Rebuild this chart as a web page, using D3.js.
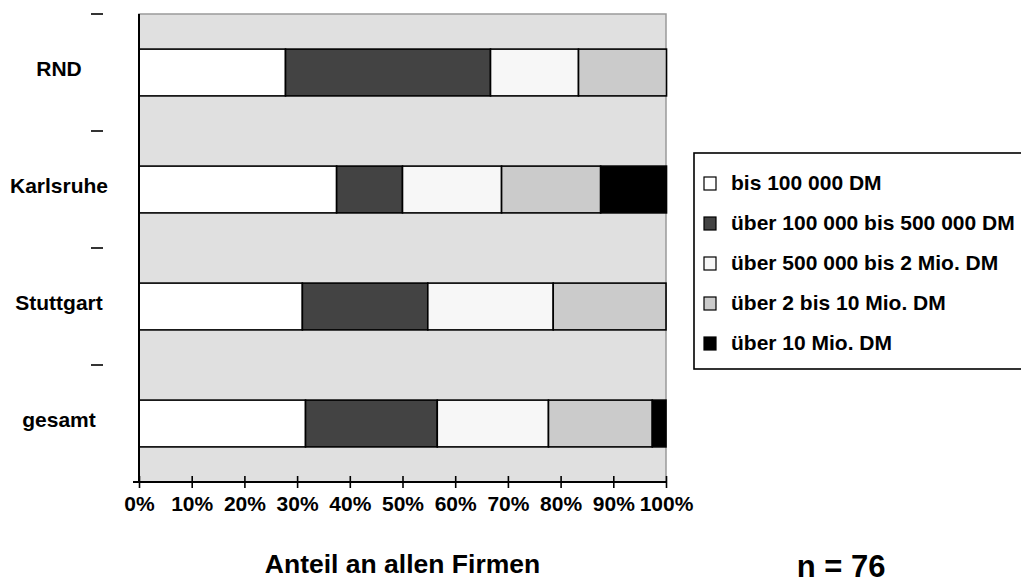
<!DOCTYPE html>
<html>
<head>
<meta charset="utf-8">
<script src="https://cdn.jsdelivr.net/npm/d3@7"></script>
<style>
  html, body { margin: 0; padding: 0; background: #fff; }
  svg { display: block; font-family: "Liberation Sans", Arial, sans-serif; font-weight: bold; }
</style>
</head>
<body>
<svg id="chart" width="1021" height="583"></svg>
<script>
// Categories (top to bottom) and size classes
const categories = ["RND", "Karlsruhe", "Stuttgart", "gesamt"];
const classes = [
  "bis 100 000 DM",
  "über 100 000 bis 500 000 DM",
  "über 500 000 bis 2 Mio. DM",
  "über 2 bis 10 Mio. DM",
  "über 10 Mio. DM"
];
// Share of firms per class, in percent
const bis100k      = [27.8, 37.5, 31.0, 31.6];
const bis500k      = [38.9, 12.5, 23.8, 25.0];
const bis2Mio      = [16.7, 18.8, 23.8, 21.1];
const bis10Mio     = [16.7, 18.8, 21.4, 19.7];
const ueber10Mio   = [0.0, 12.5, 0.0, 2.6];
const xTicks = [0, 10, 20, 30, 40, 50, 60, 70, 80, 90, 100];
const xTitle = "Anteil an allen Firmen";
const sampleNote = "n = 76";

const colors = ["#ffffff", "#434343", "#f7f7f7", "#cbcbcb", "#000000"];
const series = [bis100k, bis500k, bis2Mio, bis10Mio, ueber10Mio];

const rows = categories.map((c, i) => {
  const r = { cat: c };
  classes.forEach((k, j) => { r[k] = series[j][i]; });
  return r;
});

const svg = d3.select("#chart");
const plot = { left: 139, right: 666, top: 14, bottom: 482 };

const x = d3.scaleLinear().domain([0, 100]).range([plot.left, plot.right]);
const band = d3.scaleBand().domain(categories).range([plot.top, plot.bottom]);

// plot area
svg.append("rect")
  .attr("x", plot.left).attr("y", plot.top)
  .attr("width", plot.right - plot.left).attr("height", plot.bottom - plot.top)
  .attr("fill", "#e0e0e0").attr("stroke", "#9a9a9a").attr("stroke-width", 1.5);

// stacked bars
const stack = d3.stack().keys(classes)(rows);
svg.append("g").selectAll("g").data(stack).join("g")
  .attr("fill", (d, i) => colors[i])
  .selectAll("rect").data(d => d.filter(s => s[1] - s[0] > 0)).join("rect")
  .attr("x", d => x(d[0]))
  .attr("y", d => band(d.data.cat) + band.bandwidth() * 0.3)
  .attr("width", d => x(d[1]) - x(d[0]))
  .attr("height", band.bandwidth() * 0.4)
  .attr("stroke", "#000").attr("stroke-width", 1.6);

// value axis line on the left
svg.append("line")
  .attr("x1", plot.left).attr("x2", plot.left)
  .attr("y1", plot.top).attr("y2", plot.bottom)
  .attr("stroke", "#000").attr("stroke-width", 2);

// category axis ticks (band boundaries) and labels
svg.append("g").selectAll("line").data(categories).join("line")
  .attr("x1", 91).attr("x2", 103)
  .attr("y1", d => band(d)).attr("y2", d => band(d))
  .attr("stroke", "#000").attr("stroke-width", 1.6);

svg.append("g").selectAll("text").data(categories).join("text")
  .attr("x", 59)
  .attr("y", d => band(d) + band.bandwidth() / 2 - 4)
  .attr("dy", "0.35em")
  .attr("text-anchor", "middle")
  .attr("font-size", 21)
  .text(d => d);

// percentage axis
const xAxis = d3.axisBottom(x).tickValues(xTicks).tickFormat(d => d + "%")
  .tickSize(5).tickSizeOuter(0);
const gx = svg.append("g").attr("transform", `translate(0,${plot.bottom})`).call(xAxis);
gx.select(".domain").remove();
gx.append("line").attr("x1", plot.left - 6).attr("x2", plot.right)
  .attr("stroke", "#000").attr("stroke-width", 2);
gx.selectAll(".tick line").attr("y1", -6).attr("y2", 6)
  .attr("stroke", "#000").attr("stroke-width", 1.6);
gx.selectAll(".tick text").attr("y", 14).attr("font-size", 21)
  .attr("font-family", "Liberation Sans, Arial, sans-serif")
  .attr("font-weight", "bold").attr("fill", "#000");

// axis title and sample size
svg.append("text").attr("x", (plot.left + plot.right) / 2).attr("y", 573)
  .attr("text-anchor", "middle").attr("font-size", 26.5).text(xTitle);
svg.append("text").attr("x", 841).attr("y", 577)
  .attr("text-anchor", "middle").attr("font-size", 31).text(sampleNote);

// legend
const lg = svg.append("g");
lg.append("rect").attr("x", 694).attr("y", 153).attr("width", 340).attr("height", 216)
  .attr("fill", "#fff").attr("stroke", "#000").attr("stroke-width", 1.6);
const items = lg.selectAll("g.item").data(classes).join("g")
  .attr("class", "item")
  .attr("transform", (d, i) => `translate(704,${183 + i * 40})`);
items.append("rect").attr("x", 0).attr("y", -6).attr("width", 12).attr("height", 13)
  .attr("fill", (d, i) => colors[i]).attr("stroke", "#000").attr("stroke-width", 1.2);
items.append("text").attr("x", 27).attr("dy", "0.35em")
  .attr("font-size", 21).text(d => d);
</script>
</body>
</html>
